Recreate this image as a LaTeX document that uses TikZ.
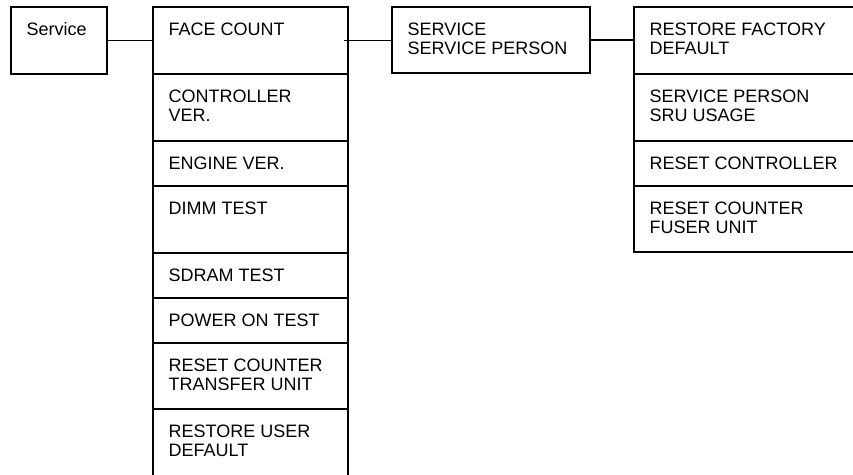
\documentclass[tikz,border=0pt]{standalone}
\usepackage{fontspec}
\setmainfont{Liberation Sans}
\begin{document}
\begin{tikzpicture}[x=1pt,y=-1pt,
  box/.style={draw, line width=1.8pt, inner sep=0pt, outer sep=0pt, anchor=north west, minimum height=#1},
  midbox/.style={box=#1, minimum width=195pt},
  rbox/.style={box=#1, minimum width=224pt},
  txt/.style={anchor=north west, inner sep=0pt, align=left, font=\fontsize{18pt}{19.5pt}\selectfont},
  link/.style={line width=1.8pt}]
\fill[white] (0,0) rectangle (853,474);
\useasboundingbox (0,0) rectangle (853,474);
% Service
\node[box=67pt, minimum width=96pt] (svc) at (11,7) {};
\node[txt] (tsvc) at ([shift={(15.5,15.5)}]svc.north west) {Service};
% middle column
\node[midbox=67pt] (m1) at (153,7) {};
\node[midbox=67pt] (m2) at (153,74) {};
\node[midbox=45pt] (m3) at (153,141) {};
\node[midbox=67pt] (m4) at (153,186) {};
\node[midbox=45pt] (m5) at (153,253) {};
\node[midbox=45pt] (m6) at (153,298) {};
\node[midbox=66pt] (m7) at (153,343) {};
\node[midbox=68pt] (m8) at (153,409) {};
\node[txt] (tm1) at ([shift={(15.5,15.5)}]m1.north west) {FACE COUNT};
\node[txt] (tm2) at ([shift={(15.5,15.5)}]m2.north west) {CONTROLLER\\VER.};
\node[txt] (tm3) at ([shift={(15.5,15.5)}]m3.north west) {ENGINE VER.};
\node[txt] (tm4) at ([shift={(15.5,15.5)}]m4.north west) {DIMM TEST};
\node[txt] (tm5) at ([shift={(15.5,15.5)}]m5.north west) {SDRAM TEST};
\node[txt] (tm6) at ([shift={(15.5,15.5)}]m6.north west) {POWER ON TEST};
\node[txt] (tm7) at ([shift={(15.5,15.5)}]m7.north west) {RESET COUNTER\\TRANSFER UNIT};
\node[txt] (tm8) at ([shift={(15.5,15.5)}]m8.north west) {RESTORE USER\\DEFAULT};
% SERVICE box
\node[box=66pt, minimum width=198pt] (sp) at (392,7) {};
\node[txt] (tsp) at ([shift={(15.5,15.5)}]sp.north west) {SERVICE\\SERVICE PERSON};
% right column
\node[rbox=67pt] (r1) at (634,7) {};
\node[rbox=67pt] (r2) at (634,74) {};
\node[rbox=45pt] (r3) at (634,141) {};
\node[rbox=66pt] (r4) at (634,186) {};
\node[txt] (tr1) at ([shift={(15.5,15.5)}]r1.north west) {RESTORE FACTORY\\DEFAULT};
\node[txt] (tr2) at ([shift={(15.5,15.5)}]r2.north west) {SERVICE PERSON\\SRU USAGE};
\node[txt] (tr3) at ([shift={(15.5,15.5)}]r3.north west) {RESET CONTROLLER};
\node[txt] (tr4) at ([shift={(15.5,15.5)}]r4.north west) {RESET COUNTER\\FUSER UNIT};
% connectors
\draw[link] (svc.east) -- (svc.east -| m1.west);
\draw[link] ([xshift=-4pt]m1.east) -- (m1.east -| sp.west);
\draw[link] (sp.east) -- (sp.east -| r1.west);
\end{tikzpicture}
\end{document}
